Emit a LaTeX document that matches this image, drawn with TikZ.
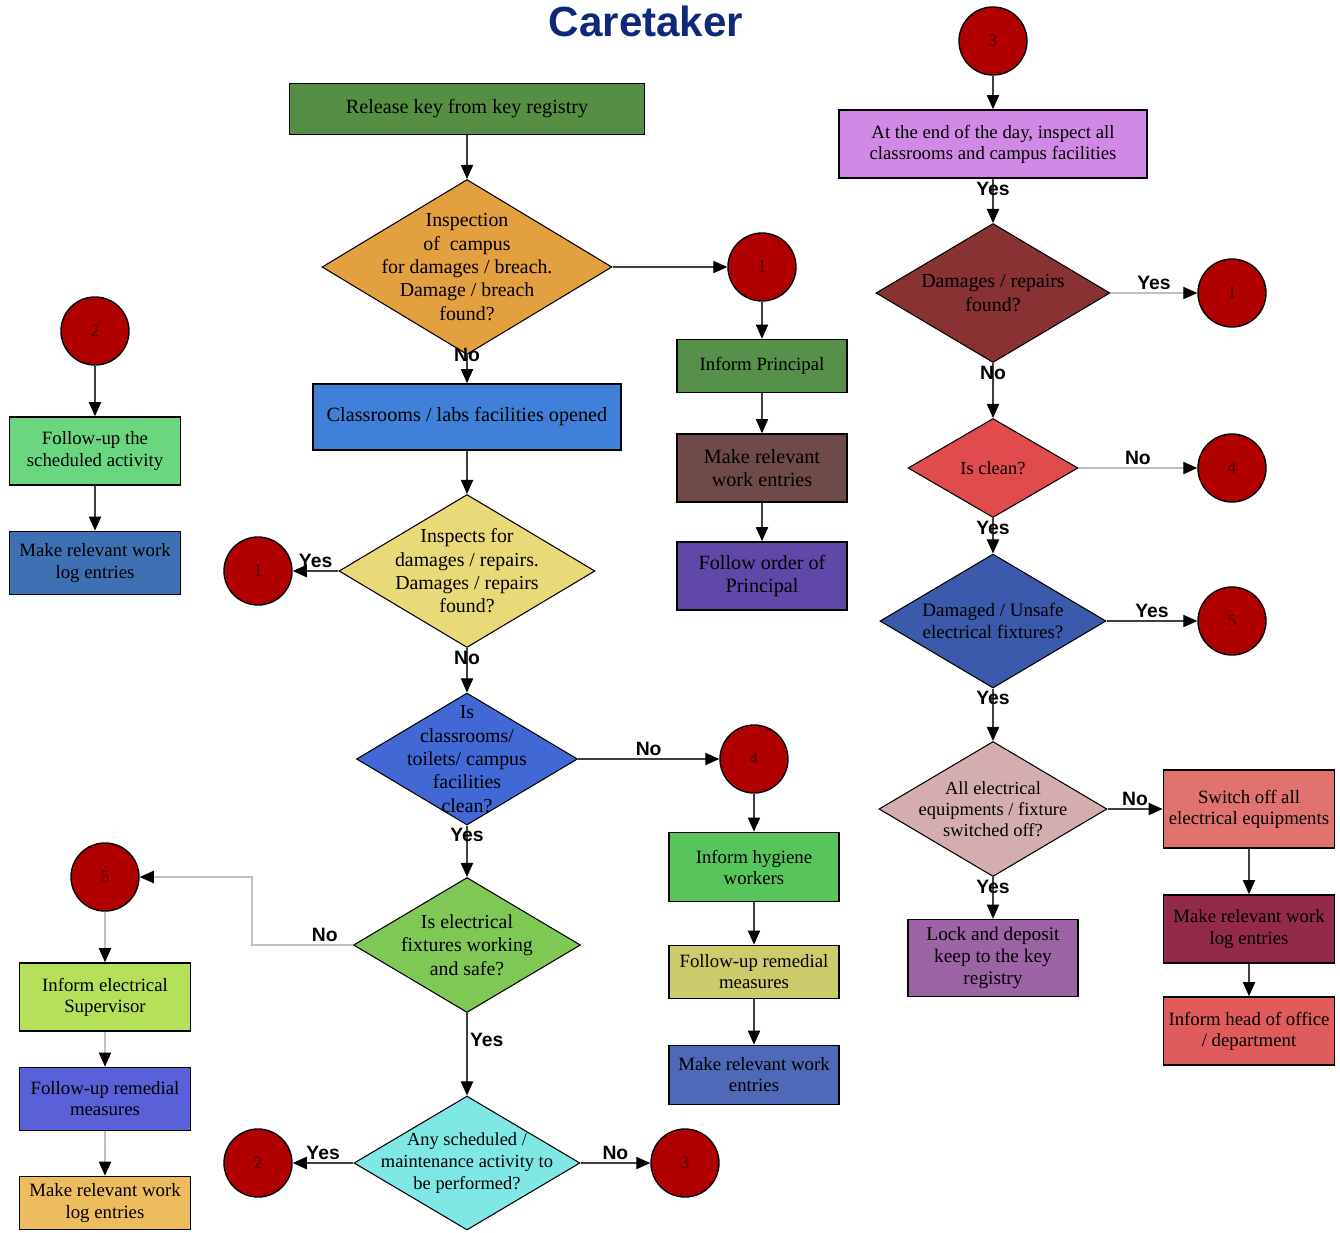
\documentclass[tikz,border=0pt]{standalone}
\usepackage{fontspec}
\setmainfont{Liberation Serif}
\newfontfamily\lblfont{Liberation Sans}
\usetikzlibrary{shapes.geometric}
\usetikzlibrary{arrows.meta}

\definecolor{titleblue}{RGB}{16,40,120}
\definecolor{conred}{RGB}{176,0,0}
\definecolor{cRelease}{RGB}{86,143,68}
\definecolor{cInspA}{RGB}{227,160,64}
\definecolor{cOpened}{RGB}{64,128,216}
\definecolor{cInspB}{RGB}{232,218,120}
\definecolor{cClean}{RGB}{66,104,214}
\definecolor{cElec}{RGB}{128,200,86}
\definecolor{cSched}{RGB}{128,232,228}
\definecolor{cPrincipal}{RGB}{86,144,74}
\definecolor{cWorkEnt}{RGB}{110,74,72}
\definecolor{cOrder}{RGB}{96,72,168}
\definecolor{cHygiene}{RGB}{88,196,92}
\definecolor{cRemedA}{RGB}{204,204,108}
\definecolor{cWorkB}{RGB}{80,104,184}
\definecolor{cSchedAct}{RGB}{106,214,128}
\definecolor{cLogA}{RGB}{64,112,180}
\definecolor{cSupervisor}{RGB}{180,224,90}
\definecolor{cRemedB}{RGB}{90,96,216}
\definecolor{cLogB}{RGB}{236,188,94}
\definecolor{cEndDay}{RGB}{208,138,230}
\definecolor{cDmg}{RGB}{136,50,52}
\definecolor{cIsClean}{RGB}{224,76,78}
\definecolor{cUnsafe}{RGB}{60,90,172}
\definecolor{cAllOff}{RGB}{212,174,174}
\definecolor{cLock}{RGB}{156,100,164}
\definecolor{cSwitch}{RGB}{224,114,112}
\definecolor{cLogC}{RGB}{146,42,72}
\definecolor{cHead}{RGB}{224,92,92}

\tikzset{
  box/.style={draw=black, line width=1pt, minimum width=3.4cm, minimum height=1.36cm,
    inner sep=2pt, align=center, font=\fontsize{10.7}{12}\selectfont},
  dia/.style={shape=diamond, draw=black, line width=0.6pt, inner sep=-1cm,
    align=center, font=\fontsize{11.3}{13.3}\selectfont},
  con/.style={shape=circle, draw=black, line width=0.8pt, fill=conred,
    minimum size=1.36cm, inner sep=0pt, text=black!70!red, font=\fontsize{10}{12}\selectfont},
  lbl/.style={font=\lblfont\bfseries\fontsize{11}{12}\selectfont, inner sep=1.5pt},
  arr/.style={draw=black!75, line width=0.6pt, -{Triangle[length=8pt,width=7pt,color=black]}},
  garr/.style={arr, draw=black!25}
}

\begin{document}
\begin{tikzpicture}[x=0.02cm, y=-0.02cm]
 \useasboundingbox (0,0) rectangle (1340,1232);
 \node[font=\lblfont\bfseries\fontsize{24}{28}\selectfont, text=titleblue] (ttl) at (646,21) {Caretaker};

 \node[box, fill=cRelease, minimum width=7.1cm, minimum height=1.02cm, font=\fontsize{11.5}{13}\selectfont] (release) at (467,109) {Release key from key registry};
 \node[dia, fill=cInspA, minimum width=5.8cm, minimum height=3.5cm] (inspA) at (467,267) {Inspection\\of~ campus\\for damages / breach.\\Damage / breach\\found?};
 \node[box, fill=cOpened, minimum width=6.16cm, minimum height=1.32cm, font=\fontsize{11.5}{13}\selectfont] (opened) at (467,417) {Classrooms / labs facilities opened};
 \node[dia, fill=cInspB, minimum width=5.12cm, minimum height=3.06cm] (inspB) at (467,571) {Inspects for\\damages / repairs.\\Damages / repairs\\found?};
 \node[dia, fill=cClean, minimum width=4.42cm, minimum height=2.64cm] (clean) at (467,759) {Is\\classrooms/\\toilets/ campus\\facilities\\clean?};
 \node[dia, fill=cElec, minimum width=4.54cm, minimum height=2.7cm] (elec) at (467,945) {Is electrical\\fixtures working\\and safe?};
 \node[dia, fill=cSched, minimum width=4.52cm, minimum height=2.68cm, font=\fontsize{10.5}{12.3}\selectfont] (sched) at (467,1163) {Any scheduled /\\maintenance activity to\\be performed?};

 \node[con] (c1a) at (762,267) {1};
 \node[box, fill=cPrincipal, minimum height=1.06cm] (principal) at (762,366) {Inform Principal};
 \node[box, fill=cWorkEnt, font=\fontsize{11.5}{13}\selectfont] (workent) at (762,468) {Make relevant\\work entries};
 \node[box, fill=cOrder, font=\fontsize{11.5}{13}\selectfont] (order) at (762,576) {Follow order of\\Principal};

 \node[con] (c4a) at (754,759) {4};
 \node[box, fill=cHygiene, minimum height=1.38cm] (hygiene) at (754,867) {Inform hygiene\\workers};
 \node[box, fill=cRemedA, minimum height=1.06cm] (remedA) at (754,972) {Follow-up remedial\\measures};
 \node[box, fill=cWorkB, minimum height=1.18cm] (workB) at (754,1075) {Make relevant work\\entries};

 \node[con] (c2a) at (95,331) {2};
 \node[box, fill=cSchedAct, minimum width=3.42cm] (schedact) at (95,451) {Follow-up the\\scheduled activity};
 \node[box, fill=cLogA, minimum width=3.42cm, minimum height=1.26cm] (logA) at (95,563) {Make relevant work\\log entries};
 \node[con] (c1b) at (258,571) {1};

 \node[con] (c5a) at (105,877) {5};
 \node[box, fill=cSupervisor, minimum width=3.42cm] (supervisor) at (105,997) {Inform electrical\\Supervisor};
 \node[box, fill=cRemedB, minimum width=3.42cm, minimum height=1.26cm] (remedB) at (105,1099) {Follow-up remedial\\measures};
 \node[box, fill=cLogB, minimum width=3.42cm, minimum height=1.06cm] (logB) at (105,1203) {Make relevant work\\log entries};
 \node[con] (c2b) at (258,1163) {2};
 \node[con] (c3b) at (685,1163) {3};

 \node[con] (c3a) at (993,41) {3};
 \node[box, fill=cEndDay, minimum width=6.16cm] (endday) at (993,144) {At the end of the day, inspect all\\classrooms and campus facilities};
 \node[dia, fill=cDmg, minimum width=4.68cm, minimum height=2.78cm] (dmg) at (993,293) {Damages / repairs\\found?};
 \node[dia, fill=cIsClean, minimum width=3.4cm, minimum height=1.98cm, font=\fontsize{10.5}{12}\selectfont] (isclean) at (993,468) {Is clean?};
 \node[dia, fill=cUnsafe, minimum width=4.52cm, minimum height=2.68cm, font=\fontsize{10.8}{12.5}\selectfont] (unsafe) at (993,621) {Damaged / Unsafe\\electrical fixtures?};
 \node[dia, fill=cAllOff, minimum width=4.56cm, minimum height=2.7cm, font=\fontsize{10.5}{12}\selectfont] (alloff) at (993,809) {All electrical\\equipments / fixture\\switched off?};
 \node[box, fill=cLock, minimum height=1.54cm, font=\fontsize{11}{12.5}\selectfont] (lock) at (993,958) {Lock and deposit\\keep to the key\\registry};

 \node[con] (c1c) at (1232,293) {1};
 \node[con] (c4b) at (1232,468) {4};
 \node[con] (c5b) at (1232,621) {5};
 \node[box, fill=cSwitch, minimum width=3.42cm, minimum height=1.56cm] (switch) at (1249,809) {Switch off all\\electrical equipments};
 \node[box, fill=cLogC, minimum width=3.42cm] (logC) at (1249,929) {Make relevant work\\log entries};
 \node[box, fill=cHead, minimum width=3.42cm] (head) at (1249,1031) {Inform head of office\\/ department};

 \draw[arr] (release) -- (inspA);
 \draw[arr] (inspA) -- node[lbl, at start]{No} (opened);
 \draw[arr] (inspA) -- (c1a);
 \draw[arr] (opened) -- (inspB);
 \draw[arr] (inspB) -- node[lbl, at start, anchor=north]{No} (clean);
 \draw[arr] (inspB) -- node[lbl, above]{Yes} (c1b);
 \draw[arr] (clean) -- node[lbl, at start, anchor=north]{Yes} (elec);
 \draw[arr] (clean) -- node[lbl, above]{No} (c4a);
 \draw[garr] (elec.west) -- node[lbl, above, pos=0.28]{No} ++(-101,0) |- (c5a);
 \draw[arr] (elec) -- node[lbl, right, pos=0.33]{Yes} (sched);
 \draw[arr] (sched) -- node[lbl, above]{Yes} (c2b);
 \draw[arr] (sched) -- node[lbl, above]{No} (c3b);

 \draw[arr] (c1a) -- (principal);
 \draw[arr] (principal) -- (workent);
 \draw[arr] (workent) -- (order);
 \draw[arr] (c4a) -- (hygiene);
 \draw[arr] (hygiene) -- (remedA);
 \draw[arr] (remedA) -- (workB);
 \draw[arr] (c2a) -- (schedact);
 \draw[arr] (schedact) -- (logA);
 \draw[garr] (c5a) -- (supervisor);
 \draw[garr] (supervisor) -- (remedB);
 \draw[garr] (remedB) -- (logB);

 \draw[arr] (c3a) -- (endday);
 \draw[arr] (endday) -- node[lbl, at start, anchor=north]{Yes} (dmg);
 \draw[garr] (dmg) -- node[lbl, above]{Yes} (c1c);
 \draw[arr] (dmg) -- node[lbl, at start, anchor=north]{No} (isclean);
 \draw[garr] (isclean) -- node[lbl, above]{No} (c4b);
 \draw[arr] (isclean) -- node[lbl, at start, anchor=north]{Yes} (unsafe);
 \draw[arr] (unsafe) -- node[lbl, above]{Yes} (c5b);
 \draw[arr] (unsafe) -- node[lbl, at start, anchor=north]{Yes} (alloff);
 \draw[arr] (alloff) -- node[lbl, above]{No} (switch);
 \draw[arr] (alloff) -- node[lbl, at start, anchor=north]{Yes} (lock);
 \draw[arr] (switch) -- (logC);
 \draw[arr] (logC) -- (head);
\end{tikzpicture}
\end{document}
